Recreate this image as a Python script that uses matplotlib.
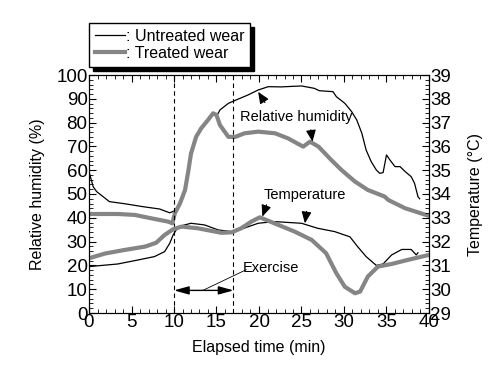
import numpy as np
import matplotlib
matplotlib.use("Agg")
import matplotlib.pyplot as plt
from matplotlib.ticker import MultipleLocator

plt.rcParams['font.family'] = ['Liberation Sans', 'DejaVu Sans']

# Relative humidity, untreated wear (black thin)
rh_u_t = [0, 0.5, 0.9, 1.4, 2.4, 4.4, 6.3, 8.3, 9.5, 10.1, 10.7, 11.3, 11.7, 12.0,
          12.6, 13.2, 14.0, 14.6, 15.2, 15.4, 16.4, 17.5, 18.7, 19.9, 21.1, 22.6,
          25.0, 26.5, 27.1, 28.7, 29.1, 30.1, 30.9, 31.5, 32.1, 32.6, 33.2, 33.8,
          34.2, 34.6, 35.0, 35.4, 36.0, 36.6, 37.2, 37.9, 38.3, 38.7, 38.9]
rh_u = [59.4, 53, 51, 49.6, 46.8, 45.8, 44.7, 43.7, 42.1, 43.0, 46, 51.7, 60, 67,
        74, 77.6, 81.1, 83.5, 83.9, 85.3, 88.1, 89.8, 91.6, 93.7, 95.1, 95.0,
        95.4, 94.4, 93.4, 93.0, 90.9, 88.1, 84.6, 81.1, 75.5, 68.5, 63.6, 60.1,
        58.7, 59.0, 66.4, 64.3, 61.5, 61.5, 59.4, 57.3, 54.5, 48.9, 48.0]

# Relative humidity, treated wear (grey thick)
rh_t_t = [0, 3.4, 5.4, 7.3, 9.3, 9.8, 10.1, 10.7, 11.3, 11.7, 12.0, 12.6, 13.2,
          14.0, 14.6, 15.0, 15.4, 16.4, 17.2, 18.3, 19.9, 21.9, 23.4, 25.2, 26.0,
          27.0, 28.5, 29.7, 31.3, 32.8, 34.8, 35.2, 37.2, 40.0]
rh_t = [41.6, 41.6, 41.2, 39.8, 38.4, 37.7, 41.9, 46, 51.7, 60, 67, 74, 77.6,
        81.1, 83.9, 83.2, 79, 74, 74, 75.5, 76.2, 75.5, 73.4, 69.9, 72,
        69.9, 64.3, 60.1, 55.2, 51.7, 48.9, 47.5, 44, 40.8]

# Temperature, untreated wear (black thin)
tp_u_t = [0, 3.4, 5.8, 7.7, 8.9, 9.5, 9.9, 10.5, 12.0, 13.6, 15.2, 16.8, 17.9,
          19.9, 21.8, 25.0, 26.9, 28.9, 30.7, 31.6, 32.6, 33.8, 34.6, 35.6, 36.8,
          37.9, 38.5, 38.7]
tp_u = [30.95, 31.06, 31.23, 31.37, 31.58, 31.93, 32.28, 32.63, 32.77, 32.7,
        32.49, 32.42, 32.52, 32.77, 32.84, 32.77, 32.56, 32.42, 32.2, 31.79,
        31.37, 31.0, 31.06, 31.44, 31.67, 31.67, 31.44, 31.53]

# Temperature, treated wear (grey thick)
tp_t_t = [0, 1.9, 4.2, 6.6, 7.9, 8.9, 9.9, 10.9, 12.8, 14.4, 15.6, 16.8, 17.9,
          19.1, 20.1, 21.8, 24.2, 26.2, 27.9, 29.1, 30.1, 31.3, 31.9, 32.8, 34.0,
          35.6, 37.5, 40.0]
tp_t = [31.3, 31.5, 31.65, 31.79, 31.95, 32.28, 32.52, 32.63, 32.56, 32.45,
        32.37, 32.39, 32.56, 32.84, 33.02, 32.77, 32.42, 32.07, 31.51, 30.67,
        30.1, 29.83, 29.9, 30.53, 30.95, 31.06, 31.23, 31.44]

exercise = [10, 17]

fig = plt.figure(figsize=(4.89, 3.78), dpi=100)
ax = fig.add_axes([89 / 489, 65 / 378, 340 / 489, 238 / 378])
ax2 = ax.twinx()

grey = '#858585'
l1, = ax.plot(rh_u_t, rh_u, color='black', lw=0.9)
l2, = ax.plot(rh_t_t, rh_t, color=grey, lw=3)
ax2.plot(tp_u_t, tp_u, color='black', lw=0.9)
ax2.plot(tp_t_t, tp_t, color=grey, lw=3)

for x in exercise:
    ax.axvline(x, color='black', lw=0.8, ls=(0, (4, 3)))

ax.set_xlim(0, 40)
ax.set_ylim(0, 100)
ax2.set_ylim(29, 39)

ax.xaxis.set_major_locator(MultipleLocator(5))
ax.xaxis.set_minor_locator(MultipleLocator(1))
ax.yaxis.set_major_locator(MultipleLocator(10))
ax.yaxis.set_minor_locator(MultipleLocator(2))
ax2.yaxis.set_major_locator(MultipleLocator(1))
ax2.yaxis.set_minor_locator(MultipleLocator(0.2))

ax.tick_params(which='both', direction='in', top=True, labelsize=13.5, pad=1)
ax.tick_params(which='major', length=5)
ax.tick_params(which='minor', length=3)
ax2.tick_params(which='both', direction='in', labelsize=13.5, pad=1)
ax2.tick_params(which='major', length=5)
ax2.tick_params(which='minor', length=3)

ax.set_xlabel('Elapsed time (min)', fontsize=11.5, labelpad=6)
ax.set_ylabel('Relative humidity (%)', fontsize=11.5, labelpad=8)
ax2.set_ylabel('Temperature (°C)', fontsize=11.5, labelpad=12)

# annotations
head = dict(arrowstyle='-|>,head_length=0.7,head_width=0.3', color='black',
            lw=0.8, shrinkA=0, shrinkB=0)
ax.text(17.8, 82.3, 'Relative humidity', fontsize=10.5, va='center')
ax.annotate('', xy=(19.9, 92.9), xytext=(20.7, 88.4), arrowprops=head)
ax.annotate('', xy=(26.3, 72.0), xytext=(26.1, 77.0), arrowprops=head)
ax.text(20.6, 49.6, 'Temperature', fontsize=10.5, va='center')
ax2.annotate('', xy=(20.4, 33.05), xytext=(20.9, 33.55), arrowprops=head)
ax2.annotate('', xy=(25.4, 32.77), xytext=(25.6, 33.27), arrowprops=head)
ax.text(18.1, 18.8, 'Exercise', fontsize=10.5, va='center')
ax.plot([18.5, 13.4], [18.2, 9.5], color='black', lw=0.6)
ax.annotate('', xy=(10, 9.5), xytext=(17, 9.5),
            arrowprops=dict(arrowstyle='<|-|>,head_length=0.9,head_width=0.25',
                            color='black', lw=1.0, shrinkA=0, shrinkB=0))

leg = fig.legend([l1, l2], [': Untreated wear', ': Treated wear'],
                 loc='upper left', bbox_to_anchor=(89 / 489, 1 - 23 / 378),
                 borderaxespad=0,
                 fontsize=11.5, handlelength=1.9, handletextpad=0.05,
                 borderpad=0.35, labelspacing=0.15, fancybox=False,
                 shadow={'color': 'black', 'alpha': 1, 'ox': 3, 'oy': -3},
                 framealpha=1, edgecolor='black')
leg.get_frame().set_linewidth(1.0)

fig.savefig('out.png', dpi=100, facecolor='white')
